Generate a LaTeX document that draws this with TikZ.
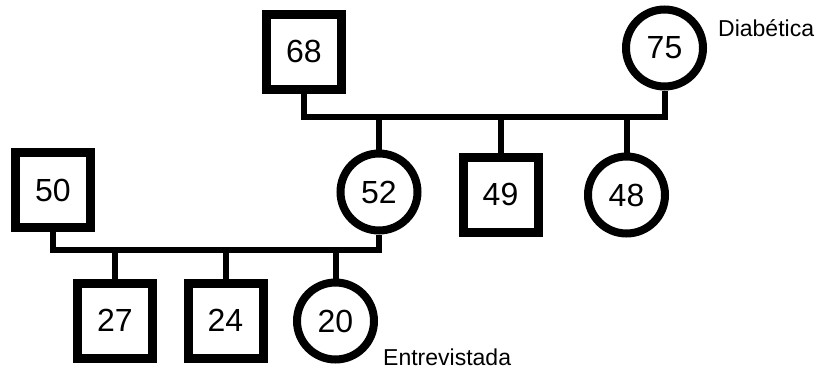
\documentclass[tikz,border=0pt]{standalone}
\usepackage{fontspec}
\setmainfont{Liberation Sans}
\begin{document}
\begin{tikzpicture}[x=1pt,y=-1pt,
  male/.style={draw, rectangle, line width=9pt, minimum size=75pt, inner sep=0pt,
    font=\fontsize{32}{32}\selectfont},
  female/.style={draw, circle, line width=8pt, minimum size=77pt, inner sep=0pt,
    font=\fontsize{32}{32}\selectfont},
  conn/.style={line width=6pt},
  note/.style={anchor=west, inner sep=0pt, font=\fontsize{23}{23}\selectfont}]
\useasboundingbox (0,0) rectangle (822,372);

% first generation
\node[male]   (n68) at (304,51.5)  {68};
\node[female] (n75) at (664.5,48)  {75};
\node[note]   (diab) at (718,28)   {Diabética};

% second generation
\node[male]   (n50) at (53,190)    {50};
\node[female] (n52) at (379,192)   {52};
\node[male]   (n49) at (500.5,194.5) {49};
\node[female] (n48) at (626.5,195) {48};

% third generation
\node[male]   (n27) at (115,320.5) {27};
\node[male]   (n24) at (225.5,320.5) {24};
\node[female] (n20) at (335.5,321) {20};
\node[note]   (entr) at (383,357)  {Entrevistada};

% sibship lines
\coordinate (j1) at (0,117);
\coordinate (j2) at (0,250);

% 68 x 75 and their children
\draw[conn] (n68.south) -- (n68.south |- j1) -- (n75.south |- j1) -- (n75.south);
\draw[conn] (n52.north |- j1) -- (n52.north);
\draw[conn] (n49.north |- j1) -- (n49.north);
\draw[conn] (n48.north |- j1) -- (n48.north);

% 50 x 52 and their children
\draw[conn] (n50.south) -- (n50.south |- j2) -- (n52.south |- j2) -- (n52.south);
\draw[conn] (n27.north |- j2) -- (n27.north);
\draw[conn] (n24.north |- j2) -- (n24.north);
\draw[conn] (n20.north |- j2) -- (n20.north);
\end{tikzpicture}
\end{document}
